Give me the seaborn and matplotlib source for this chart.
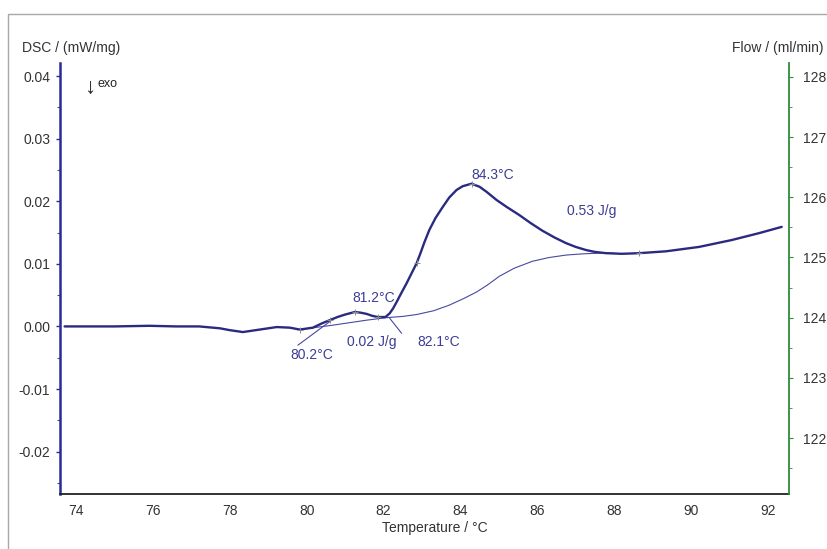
import numpy as np
import pandas as pd
import matplotlib
matplotlib.use("Agg")
import matplotlib.pyplot as plt
import seaborn as sns
from matplotlib.ticker import MultipleLocator
from matplotlib.patches import Rectangle

# --- data
temp_dsc = [73.70, 75.0, 75.9, 76.6, 77.2, 77.74, 78.0, 78.34, 78.78, 79.22,
            79.56, 79.82, 80.16, 80.4, 80.6, 80.8, 81.0, 81.25, 81.4, 81.56,
            81.7, 81.85, 82.05, 82.16, 82.25, 82.34, 82.45, 82.6, 82.73, 82.86,
            82.96, 83.06, 83.19, 83.35, 83.53, 83.71, 83.90, 84.06, 84.29, 84.50,
            84.68, 84.94, 85.2, 85.53, 85.83, 86.13, 86.45, 86.75, 87.0, 87.27,
            87.5, 87.79, 88.2, 88.65, 89.35, 90.21, 91.06, 91.77, 92.36]
dsc = [0.0000, 0.0000, 0.0001, 0.0000, 0.0000, -0.0003, -0.0006, -0.0009, -0.0005, -0.0001,
       -0.0002, -0.0005, -0.0002, 0.0005, 0.0010, 0.0015, 0.0019, 0.0023, 0.0022, 0.0020,
       0.0017, 0.0015, 0.0015, 0.0021, 0.0029, 0.0039, 0.0052, 0.0069, 0.0085, 0.0101,
       0.0117, 0.0134, 0.0154, 0.0173, 0.0190, 0.0206, 0.0218, 0.0224, 0.0228, 0.0223,
       0.0215, 0.0202, 0.0191, 0.0178, 0.0165, 0.0153, 0.0142, 0.0133, 0.0127, 0.0122,
       0.0119, 0.0117, 0.0116, 0.0117, 0.0120, 0.0127, 0.0138, 0.0149, 0.0159]

# integration baseline (thin)
temp_base = [79.82, 80.68, 81.56, 82.08, 82.5, 82.86, 83.3, 83.71, 84.1, 84.42,
             84.7, 85.01, 85.4, 85.87, 86.3, 86.75, 87.2, 87.61, 88.0]
base = [-0.0005, 0.0002, 0.0010, 0.0014, 0.0016, 0.0019, 0.0025, 0.0034, 0.0045, 0.0055,
        0.0066, 0.0080, 0.0093, 0.0104, 0.0110, 0.0114, 0.0116, 0.0117, 0.0117]

# onset / end tangent segments
onset_t = [79.77, 80.65]
onset_v = [-0.0030, 0.0010]
end_t = [82.16, 82.47]
end_v = [0.0013, -0.0011]

# small evaluation marks on the curve
mark_t = [79.82, 80.6, 81.25, 81.85, 82.86, 84.29, 88.65]
mark_v = [-0.0005, 0.0010, 0.0023, 0.0015, 0.0101, 0.0228, 0.0117]

# annotations: (text, T, value)
labels = [("84.3°C", 84.29, 0.0242),
          ("0.53 J/g", 86.78, 0.0184),
          ("81.2°C", 81.19, 0.0046),
          ("0.02 J/g", 81.04, -0.0025),
          ("82.1°C", 82.88, -0.0025),
          ("80.2°C", 79.58, -0.0046)]

x_ticks = [74, 76, 78, 80, 82, 84, 86, 88, 90, 92]
y_ticks = [-0.02, -0.01, 0.00, 0.01, 0.02, 0.03, 0.04]
flow_ticks = [122, 123, 124, 125, 126, 127, 128]

sns.set_style("white")
plt.rcParams['font.family'] = ['Liberation Sans', 'DejaVu Sans']

NAVY = "#2a2a80"
TXT = "#3c3c96"

fig = plt.figure(figsize=(8.28, 5.49), dpi=100)
ax = fig.add_axes([60/828, 1-494/549, (789-60)/828, (494-63)/549])

df_main = pd.DataFrame({"T": temp_dsc, "DSC": dsc})
df_base = pd.DataFrame({"T": temp_base, "DSC": base})
sns.lineplot(data=df_base, x="T", y="DSC", ax=ax, color="#4848a0", linewidth=0.8)
sns.lineplot(data=df_main, x="T", y="DSC", ax=ax, color=NAVY, linewidth=1.7)
sns.lineplot(x=onset_t, y=onset_v, ax=ax, color="#4848a0", linewidth=0.8)
sns.lineplot(x=end_t, y=end_v, ax=ax, color="#4848a0", linewidth=0.8)
ax.plot(mark_t, mark_v, linestyle="none", marker="+", markersize=4,
        color="#8a8a8a", markeredgewidth=0.7)

for txt, t, v in labels:
    ax.text(t, v, txt, color=TXT, fontsize=10, ha="left", va="center")

ax.text(74.36, 0.0381, "↓", color="#222222", fontsize=16, ha="center", va="center")
ax.text(74.56, 0.0388, "exo", color="#222222", fontsize=9, ha="left", va="center")

ax.set_xlim(73.58, 92.55)
ax.set_ylim(-0.02677, 0.04208)
ax.set_xticks(x_ticks)
ax.set_yticks(y_ticks)
ax.set_yticklabels([f"{v:.2f}" for v in y_ticks])
ax.xaxis.set_minor_locator(MultipleLocator(1))
ax.yaxis.set_minor_locator(MultipleLocator(0.005))
ax.set_xlabel("")
ax.set_ylabel("")
ax.tick_params(axis="both", which="major", length=3, width=1, direction="out",
               labelsize=10, labelcolor="#333333", color="#333333", pad=4)
ax.tick_params(axis="both", which="minor", length=2, width=0.8, color="#555555")
ax.tick_params(axis="y", colors="#2a2a99", labelcolor="#333333")

for s in ["top", "right"]:
    ax.spines[s].set_visible(False)
ax.spines["left"].set_color("#2a2a99")
ax.spines["left"].set_linewidth(1.8)
ax.spines["bottom"].set_color("#222222")
ax.spines["bottom"].set_linewidth(1.3)

ax2 = ax.twinx()
ax2.set_ylim(121.07, 128.23)
ax2.set_yticks(flow_ticks)
ax2.yaxis.set_minor_locator(MultipleLocator(0.5))
for s in ["top", "left", "bottom"]:
    ax2.spines[s].set_visible(False)
ax2.spines["right"].set_color("#2e8b3e")
ax2.spines["right"].set_linewidth(1.3)
ax2.tick_params(axis="y", which="major", length=3, color="#2e8b3e",
                labelsize=10, labelcolor="#333333", pad=7)
ax2.tick_params(axis="y", which="minor", length=2, color="#2e8b3e")
ax2.grid(False)
ax.grid(False)

fig.text(22/828, 1-48/549, "DSC / (mW/mg)", fontsize=10, color="#333333",
         ha="left", va="center")
fig.text(732/828, 1-48/549, "Flow / (ml/min)", fontsize=10, color="#333333",
         ha="left", va="center")
fig.text(435/828, 1-528/549, "Temperature / °C", fontsize=10, color="#333333",
         ha="center", va="center")

# outer frame of the export
fig.add_artist(Rectangle((8/828, -0.1), 1.2, 1-14/549+0.1, transform=fig.transFigure,
                         fill=False, edgecolor="#a8a8a8", linewidth=1.0, clip_on=False))

fig.savefig("out.png", dpi=100)
